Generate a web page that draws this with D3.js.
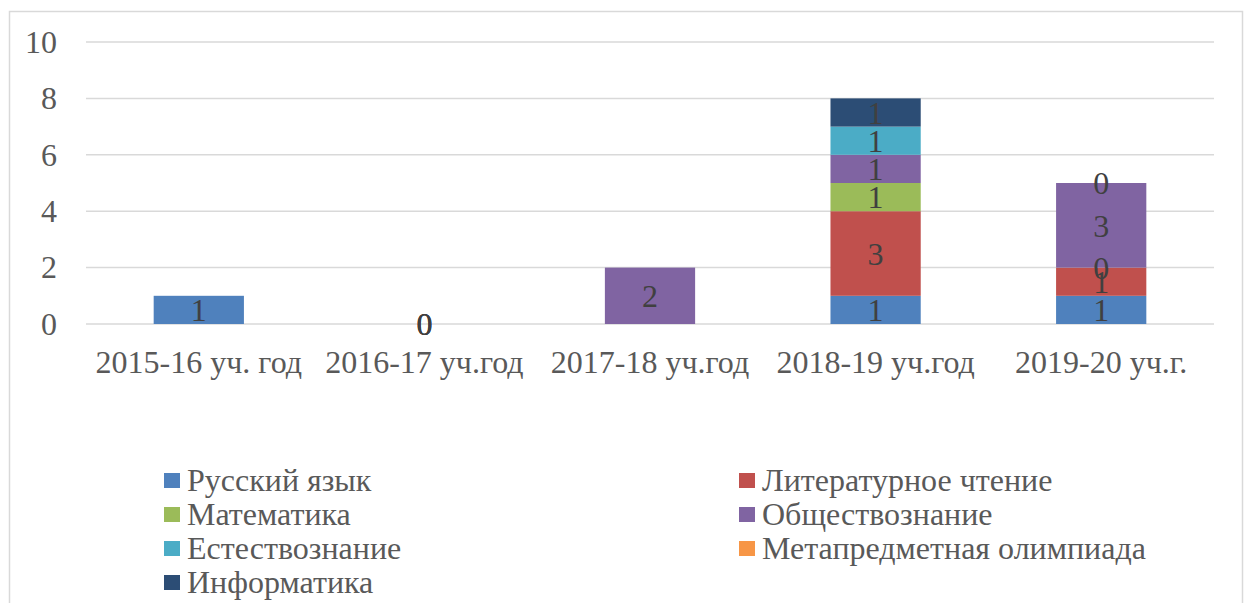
<!DOCTYPE html>
<html>
<head>
<meta charset="utf-8">
<script src="https://cdn.jsdelivr.net/npm/d3@7"></script>
</head>
<body style="margin:0">
<div id="wrapper"></div>
<script>
// data (null = no value in the sheet)
const categories = ["2015-16 уч. год", "2016-17 уч.год", "2017-18 уч.год", "2018-19 уч.год", "2019-20 уч.г."]
const seriesNames = ["Русский язык", "Литературное чтение", "Математика", "Обществознание",
  "Естествознание", "Метапредметная олимпиада", "Информатика"]
const russian    = [1, 0, null, 1, 1]
const literature = [null, 0, null, 3, 1]
const maths      = [null, 0, null, 1, 0]
const social     = [null, null, 2, 1, 3]
const science    = [null, null, null, 1, 0]
const meta       = [null, null, null, null, null]
const informatics = [null, null, null, 1, null]
const yTicks = [0, 2, 4, 6, 8, 10]
const colors = ["#4F81BD", "#C0504D", "#9BBB59", "#8064A2", "#4BACC6", "#F79646", "#2C4D75"]

const seriesValues = [russian, literature, maths, social, science, meta, informatics]
const FONT = `"Liberation Serif"`
const FONT_SIZE = "32px"

function drawChart() {
  const dimensions = {
    width: 1245,
    height: 603,
    margin: { top: 42, right: 31, bottom: 279, left: 86 },
  }
  dimensions.boundedWidth = dimensions.width - dimensions.margin.left - dimensions.margin.right
  dimensions.boundedHeight = dimensions.height - dimensions.margin.top - dimensions.margin.bottom

  const rows = categories.map((c, i) => {
    const row = { category: c }
    seriesNames.forEach((s, j) => { row[s] = seriesValues[j][i] })
    return row
  })

  const stacked = d3.stack()
    .keys(seriesNames)
    .value((d, key) => d[key] == null ? 0 : d[key])(rows)

  const svg = d3.select("#wrapper").append("svg")
    .attr("width", dimensions.width)
    .attr("height", dimensions.height)

  // chart frame
  svg.append("rect")
    .attr("x", 9.5).attr("y", 11.5)
    .attr("width", 1233).attr("height", 600)
    .attr("fill", "#fff")
    .attr("stroke", "#d9d9d9")
    .attr("stroke-width", 1.5)

  const bounds = svg.append("g")
    .attr("transform", `translate(${dimensions.margin.left}, ${dimensions.margin.top})`)

  const xScale = d3.scaleBand()
    .domain(categories)
    .range([0, dimensions.boundedWidth])
    .paddingInner(0.6)
    .paddingOuter(0.3)

  const yScale = d3.scaleLinear()
    .domain([0, 10])
    .range([dimensions.boundedHeight, 0])

  // gridlines
  bounds.append("g").selectAll("line")
    .data(yTicks)
    .join("line")
    .attr("x1", 0).attr("x2", dimensions.boundedWidth)
    .attr("y1", d => yScale(d)).attr("y2", d => yScale(d))
    .attr("stroke", "#d9d9d9")
    .attr("stroke-width", 1.5)

  // y axis labels
  const yAxis = d3.axisLeft(yScale).tickValues(yTicks).tickSize(0).tickPadding(29)
  const yAxisG = bounds.append("g").call(yAxis)
  yAxisG.select(".domain").remove()
  yAxisG.selectAll("text")
    .style("font-family", FONT)
    .style("font-size", FONT_SIZE)
    .attr("fill", "#595959")

  // bars
  const layers = bounds.append("g").selectAll("g")
    .data(stacked)
    .join("g")
    .attr("fill", (d, i) => colors[i])

  layers.selectAll("rect")
    .data(d => d)
    .join("rect")
    .attr("x", d => xScale(d.data.category))
    .attr("width", xScale.bandwidth())
    .attr("y", d => yScale(d[1]))
    .attr("height", d => yScale(d[0]) - yScale(d[1]))

  // data labels
  const labels = bounds.append("g")
  stacked.forEach(layer => {
    layer.forEach(d => {
      const v = d.data[layer.key]
      if (v == null) return
      labels.append("text")
        .attr("x", xScale(d.data.category) + xScale.bandwidth() / 2)
        .attr("y", yScale((d[0] + d[1]) / 2))
        .attr("dy", "0.35em")
        .attr("text-anchor", "middle")
        .style("font-family", FONT)
        .style("font-size", FONT_SIZE)
        .attr("fill", "#404040")
        .text(v)
    })
  })

  // x axis labels
  const xAxis = d3.axisBottom(xScale).tickSize(0).tickPadding(26)
  const xAxisG = bounds.append("g")
    .attr("transform", `translate(0, ${dimensions.boundedHeight})`)
    .call(xAxis)
  xAxisG.select(".domain").remove()
  xAxisG.selectAll("text")
    .style("font-family", FONT)
    .style("font-size", FONT_SIZE)
    .attr("fill", "#595959")

  // legend, two columns
  const legend = svg.append("g")
  const legendItems = legend.selectAll("g")
    .data(seriesNames)
    .join("g")
    .attr("transform", (d, i) => `translate(${i % 2 === 0 ? 164 : 739}, ${480 + Math.floor(i / 2) * 34})`)

  legendItems.append("rect")
    .attr("x", 0).attr("y", -7)
    .attr("width", 16).attr("height", 15)
    .attr("fill", (d, i) => colors[i])

  legendItems.append("text")
    .attr("x", 23)
    .attr("dy", "0.35em")
    .style("font-family", FONT)
    .style("font-size", FONT_SIZE)
    .attr("fill", "#595959")
    .text(d => d)
}
drawChart()
</script>
</body>
</html>
